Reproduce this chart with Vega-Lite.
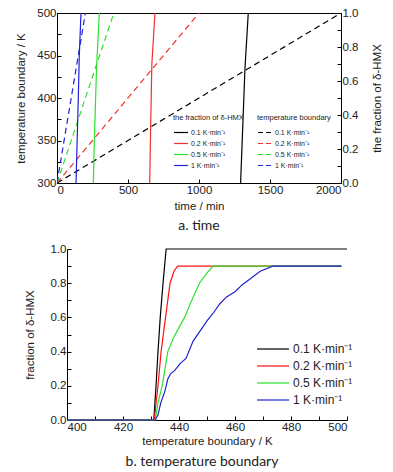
{
  "$schema": "https://vega.github.io/schema/vega-lite/v6.json",
  "padding": {"left": 14, "top": 6, "right": 5, "bottom": 2},
  "background": "white",
  "config": {
    "view": {"stroke": "black", "strokeWidth": 1},
    "axis": {
      "grid": false, "domainColor": "black", "tickColor": "black", "tickSize": -4,
      "labelColor": "#222", "titleColor": "#222",
      "labelFont": "Liberation Sans", "labelFontSize": 11.5,
      "titleFont": "Liberation Sans", "titleFontSize": 11.5, "titleFontWeight": "normal",
      "labelOverlap": false, "labelPadding": 5
    },
    "legend": {"labelFont": "Liberation Sans", "titleFont": "Liberation Sans", "titleFontWeight": "normal", "labelColor": "#222", "titleColor": "#222"},
    "title": {"font": "Lato", "fontSize": 14, "fontWeight": "normal", "color": "#222"}
  },
  "datasets": {
    "tempBoundary": [
      {"rate": "0.1 K·min⁻¹", "t": 0, "T": 300}, {"rate": "0.1 K·min⁻¹", "t": 2000, "T": 500},
      {"rate": "0.2 K·min⁻¹", "t": 0, "T": 300}, {"rate": "0.2 K·min⁻¹", "t": 1000, "T": 500},
      {"rate": "0.5 K·min⁻¹", "t": 0, "T": 300}, {"rate": "0.5 K·min⁻¹", "t": 400, "T": 500},
      {"rate": "1 K·min⁻¹", "t": 0, "T": 300}, {"rate": "1 K·min⁻¹", "t": 200, "T": 500}
    ],
    "fracTime": [
      {"rate": "0.1 K·min⁻¹", "t": 1293, "f": 0}, {"rate": "0.1 K·min⁻¹", "t": 1324, "f": 0.68}, {"rate": "0.1 K·min⁻¹", "t": 1347, "f": 1},
      {"rate": "0.2 K·min⁻¹", "t": 653, "f": 0}, {"rate": "0.2 K·min⁻¹", "t": 660, "f": 0.35}, {"rate": "0.2 K·min⁻¹", "t": 668, "f": 0.7}, {"rate": "0.2 K·min⁻¹", "t": 690, "f": 1},
      {"rate": "0.5 K·min⁻¹", "t": 256, "f": 0}, {"rate": "0.5 K·min⁻¹", "t": 263, "f": 0.25}, {"rate": "0.5 K·min⁻¹", "t": 279, "f": 0.69}, {"rate": "0.5 K·min⁻¹", "t": 298, "f": 1},
      {"rate": "1 K·min⁻¹", "t": 134, "f": 0}, {"rate": "1 K·min⁻¹", "t": 150, "f": 0.5}, {"rate": "1 K·min⁻¹", "t": 157, "f": 0.75}, {"rate": "1 K·min⁻¹", "t": 169, "f": 1}
    ],
    "fracTemp": [
      {"rate": "0.1 K·min⁻¹", "T": 400, "f": 0}, {"rate": "0.1 K·min⁻¹", "T": 431, "f": 0}, {"rate": "0.1 K·min⁻¹", "T": 431.8, "f": 0.2}, {"rate": "0.1 K·min⁻¹", "T": 432.5, "f": 0.4}, {"rate": "0.1 K·min⁻¹", "T": 433.3, "f": 0.6}, {"rate": "0.1 K·min⁻¹", "T": 434.3, "f": 0.8}, {"rate": "0.1 K·min⁻¹", "T": 435.4, "f": 1.0}, {"rate": "0.1 K·min⁻¹", "T": 500, "f": 1.0},
      {"rate": "0.2 K·min⁻¹", "T": 400, "f": 0}, {"rate": "0.2 K·min⁻¹", "T": 431.2, "f": 0}, {"rate": "0.2 K·min⁻¹", "T": 431.8, "f": 0.1}, {"rate": "0.2 K·min⁻¹", "T": 432.5, "f": 0.2}, {"rate": "0.2 K·min⁻¹", "T": 433.6, "f": 0.4}, {"rate": "0.2 K·min⁻¹", "T": 435.2, "f": 0.6}, {"rate": "0.2 K·min⁻¹", "T": 436.8, "f": 0.8}, {"rate": "0.2 K·min⁻¹", "T": 438.2, "f": 0.87}, {"rate": "0.2 K·min⁻¹", "T": 439.5, "f": 0.9}, {"rate": "0.2 K·min⁻¹", "T": 498, "f": 0.9},
      {"rate": "0.5 K·min⁻¹", "T": 400, "f": 0}, {"rate": "0.5 K·min⁻¹", "T": 431.5, "f": 0}, {"rate": "0.5 K·min⁻¹", "T": 432.5, "f": 0.1}, {"rate": "0.5 K·min⁻¹", "T": 434, "f": 0.2}, {"rate": "0.5 K·min⁻¹", "T": 436, "f": 0.4}, {"rate": "0.5 K·min⁻¹", "T": 438, "f": 0.48}, {"rate": "0.5 K·min⁻¹", "T": 440, "f": 0.54}, {"rate": "0.5 K·min⁻¹", "T": 442, "f": 0.6}, {"rate": "0.5 K·min⁻¹", "T": 444, "f": 0.68}, {"rate": "0.5 K·min⁻¹", "T": 447.3, "f": 0.8}, {"rate": "0.5 K·min⁻¹", "T": 450, "f": 0.86}, {"rate": "0.5 K·min⁻¹", "T": 452.2, "f": 0.9}, {"rate": "0.5 K·min⁻¹", "T": 498, "f": 0.9},
      {"rate": "1 K·min⁻¹", "T": 400, "f": 0}, {"rate": "1 K·min⁻¹", "T": 431.5, "f": 0}, {"rate": "1 K·min⁻¹", "T": 432.5, "f": 0.03}, {"rate": "1 K·min⁻¹", "T": 433.5, "f": 0.1}, {"rate": "1 K·min⁻¹", "T": 435, "f": 0.17}, {"rate": "1 K·min⁻¹", "T": 436, "f": 0.24}, {"rate": "1 K·min⁻¹", "T": 437, "f": 0.27}, {"rate": "1 K·min⁻¹", "T": 438.5, "f": 0.29}, {"rate": "1 K·min⁻¹", "T": 440.4, "f": 0.33}, {"rate": "1 K·min⁻¹", "T": 442.5, "f": 0.36}, {"rate": "1 K·min⁻¹", "T": 445, "f": 0.46}, {"rate": "1 K·min⁻¹", "T": 447.5, "f": 0.52}, {"rate": "1 K·min⁻¹", "T": 450, "f": 0.58}, {"rate": "1 K·min⁻¹", "T": 452, "f": 0.62}, {"rate": "1 K·min⁻¹", "T": 454.6, "f": 0.68}, {"rate": "1 K·min⁻¹", "T": 457, "f": 0.72}, {"rate": "1 K·min⁻¹", "T": 460, "f": 0.75}, {"rate": "1 K·min⁻¹", "T": 462.5, "f": 0.79}, {"rate": "1 K·min⁻¹", "T": 465, "f": 0.82}, {"rate": "1 K·min⁻¹", "T": 469, "f": 0.87}, {"rate": "1 K·min⁻¹", "T": 473.5, "f": 0.9}, {"rate": "1 K·min⁻¹", "T": 498, "f": 0.9}
    ]
  },
  "vconcat": [
    {
      "width": 284, "height": 170,
      "title": {"text": "a. time", "orient": "bottom", "offset": 7},
      "layer": [
        {
          "data": {"name": "tempBoundary"},
          "mark": {"type": "line", "strokeDash": [6, 4], "strokeWidth": 1.2, "clip": true},
          "encoding": {
            "x": {"field": "t", "type": "quantitative", "scale": {"domain": [0, 2000], "nice": false},
                  "axis": {"title": "time / min", "values": [0, 250, 500, 750, 1000, 1250, 1500, 1750, 2000], "labelExpr": "datum.value % 500 == 0 ? format(datum.value, 'd') : ''", "titlePadding": 5}},
            "y": {"field": "T", "type": "quantitative", "scale": {"domain": [300, 500], "nice": false, "zero": false},
                  "axis": {"title": "temperature boundary / K", "orient": "left", "titleX": -31, "titleBaseline": "bottom", "values": [300, 325, 350, 375, 400, 425, 450, 475, 500], "labelExpr": "datum.value % 50 == 0 ? datum.label : ''"}},
            "color": {"field": "rate", "type": "nominal",
                      "scale": {"domain": ["0.1 K·min⁻¹", "0.2 K·min⁻¹", "0.5 K·min⁻¹", "1 K·min⁻¹"], "range": ["#000000", "#f03030", "#30e030", "#2020d8"]},
                      "legend": {"title": "temperature boundary", "orient": "none", "legendX": 200, "legendY": 101, "symbolType": "stroke", "symbolSize": 196, "symbolStrokeWidth": 1.2, "symbolDash": [5, 3], "labelFontSize": 7, "titleFontSize": 7.5, "labelOffset": 2, "rowPadding": 0, "titlePadding": 3, "padding": 0}}
          }
        },
        {
          "data": {"name": "fracTime"},
          "mark": {"type": "line", "strokeWidth": 1.2, "clip": true},
          "encoding": {
            "x": {"field": "t", "type": "quantitative", "scale": {"domain": [0, 2000], "nice": false}},
            "y": {"field": "f", "type": "quantitative", "scale": {"domain": [0, 1], "nice": false},
                  "axis": {"title": "the fraction of δ-HMX", "orient": "right", "titleAngle": 270, "titleBaseline": "top", "titleX": 30, "values": [0, 0.1, 0.2, 0.3, 0.4, 0.5, 0.6, 0.7, 0.8, 0.9, 1.0], "labelExpr": "round(datum.value*10) % 2 == 0 ? format(datum.value, '.1f') : ''"}},
            "color": {"field": "rate", "type": "nominal",
                      "scale": {"domain": ["0.1 K·min⁻¹", "0.2 K·min⁻¹", "0.5 K·min⁻¹", "1 K·min⁻¹"], "range": ["#000000", "#f03030", "#30e030", "#2020d8"]},
                      "legend": {"title": "the fraction of δ-HMX", "orient": "none", "legendX": 116, "legendY": 101, "symbolType": "stroke", "symbolSize": 196, "symbolStrokeWidth": 1.2, "labelFontSize": 7, "titleFontSize": 7.5, "labelOffset": 2, "rowPadding": 0, "titlePadding": 3, "padding": 0}}
          }
        }
      ],
      "resolve": {"scale": {"y": "independent", "color": "independent"}, "legend": {"color": "independent"}}
    },
    {
      "width": 290, "height": 171,
      "view": {"stroke": null},
      "title": {"text": "b. temperature boundary", "orient": "bottom", "offset": 8, "anchor": "middle"},
      "data": {"name": "fracTemp"},
      "mark": {"type": "line", "strokeWidth": 1.2},
      "encoding": {
        "x": {"field": "T", "type": "quantitative", "scale": {"domain": [400, 500], "nice": false, "zero": false, "range": [10, 290]},
              "axis": {"title": "temperature boundary / K", "values": [400, 410, 420, 430, 440, 450, 460, 470, 480, 490, 500], "labelExpr": "datum.value % 20 == 0 ? datum.label : ''", "titlePadding": 3}},
        "y": {"field": "f", "type": "quantitative", "scale": {"domain": [0, 1], "nice": false},
              "axis": {"title": "fraction of δ-HMX", "offset": -10, "titleX": -32, "titleBaseline": "bottom", "values": [0, 0.1, 0.2, 0.3, 0.4, 0.5, 0.6, 0.7, 0.8, 0.9, 1.0], "labelExpr": "round(datum.value*10) % 2 == 0 ? format(datum.value, '.1f') : ''"}},
        "color": {"field": "rate", "type": "nominal",
                  "scale": {"domain": ["0.1 K·min⁻¹", "0.2 K·min⁻¹", "0.5 K·min⁻¹", "1 K·min⁻¹"], "range": ["#000000", "#ff1010", "#30e030", "#2020d0"]},
                  "legend": {"title": null, "orient": "none", "legendX": 207, "legendY": 91, "symbolType": "M-2,0H2", "symbolSize": 256, "symbolStrokeWidth": 1.2, "labelFontSize": 12, "labelOffset": 11, "rowPadding": 2, "padding": 0}}
      }
    }
  ],
  "resolve": {"scale": {"color": "independent"}, "legend": {"color": "independent"}},
  "spacing": 9
}
